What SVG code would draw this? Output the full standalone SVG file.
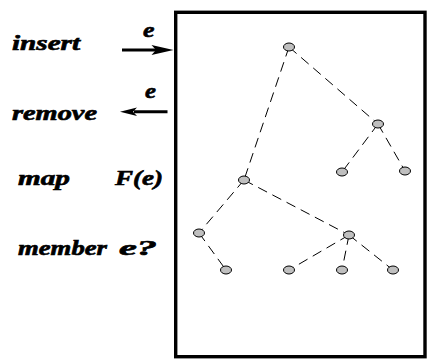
<svg xmlns="http://www.w3.org/2000/svg" width="427" height="360" viewBox="0 0 427 360">
<style>
.lbl{font-family:"Liberation Serif","DejaVu Serif",serif;font-weight:bold;font-style:italic;font-size:20px;fill:#000;stroke:#000;stroke-width:0.6}
.big{font-size:22px}
.edge{stroke:#000;stroke-width:1;stroke-dasharray:10,6;fill:none}
.nd{fill:#bfbfbf;stroke:#000;stroke-width:1}
</style>
<rect width="427" height="360" fill="#fff"/>
<g id="box"><rect x="175.7" y="12.3" width="249.3" height="344.4" fill="none" stroke="#000" stroke-width="3.4"/></g>
<g id="labels">
<text class="lbl" x="12" y="50" textLength="68" lengthAdjust="spacingAndGlyphs">insert</text>
<text class="lbl big" x="143" y="37" textLength="11.5" lengthAdjust="spacingAndGlyphs">e</text>
<text class="lbl" x="12" y="120" textLength="85" lengthAdjust="spacingAndGlyphs">remove</text>
<text class="lbl big" x="145" y="98" textLength="11" lengthAdjust="spacingAndGlyphs">e</text>
<text class="lbl" x="18" y="185" textLength="52" lengthAdjust="spacingAndGlyphs">map</text>
<text class="lbl" x="115" y="185" textLength="48" lengthAdjust="spacingAndGlyphs">F(e)</text>
<text class="lbl" x="18" y="255" textLength="89" lengthAdjust="spacingAndGlyphs">member</text>
<text class="lbl" x="119" y="255" textLength="38" lengthAdjust="spacingAndGlyphs">e?</text>
</g>
<g id="connectors">
<line x1="122" y1="50" x2="158" y2="50" stroke="#000" stroke-width="3"/>
<path d="M173.5,50 L151.5,45 L156,50 L151.5,55 Z" fill="#000"/>
<line x1="167.5" y1="111.7" x2="134" y2="111.7" stroke="#000" stroke-width="3"/>
<path d="M120,111.7 L137,107.4 L133,111.7 L137,116 Z" fill="#000"/>
<line class="edge" x1="289" y1="47" x2="378" y2="124"/>
<line class="edge" x1="289" y1="47" x2="244" y2="180"/>
<line class="edge" x1="378" y1="124" x2="342" y2="172"/>
<line class="edge" x1="378" y1="124" x2="405" y2="171"/>
<line class="edge" x1="244" y1="180" x2="199" y2="233"/>
<line class="edge" x1="244" y1="180" x2="349" y2="235"/>
<line class="edge" x1="199" y1="233" x2="226" y2="270"/>
<line class="edge" x1="349" y1="235" x2="289" y2="270"/>
<line class="edge" x1="349" y1="235" x2="342" y2="270"/>
<line class="edge" x1="349" y1="235" x2="393" y2="270"/>
</g>
<g id="n_root"><ellipse class="nd" cx="289" cy="47" rx="5.5" ry="4"/></g>
<g id="n_r"><ellipse class="nd" cx="378" cy="124" rx="5.5" ry="4"/></g>
<g id="n_rl"><ellipse class="nd" cx="342" cy="172" rx="5.5" ry="4"/></g>
<g id="n_rr"><ellipse class="nd" cx="405" cy="171" rx="5.5" ry="4"/></g>
<g id="n_l"><ellipse class="nd" cx="244" cy="180" rx="5.5" ry="4"/></g>
<g id="n_ll"><ellipse class="nd" cx="199" cy="233" rx="5.5" ry="4"/></g>
<g id="n_llc"><ellipse class="nd" cx="226" cy="270" rx="5.5" ry="4"/></g>
<g id="n_m"><ellipse class="nd" cx="349" cy="235" rx="5.5" ry="4"/></g>
<g id="n_m1"><ellipse class="nd" cx="289" cy="270" rx="5.5" ry="4"/></g>
<g id="n_m2"><ellipse class="nd" cx="342" cy="270" rx="5.5" ry="4"/></g>
<g id="n_m3"><ellipse class="nd" cx="393" cy="270" rx="5.5" ry="4"/></g>
</svg>
